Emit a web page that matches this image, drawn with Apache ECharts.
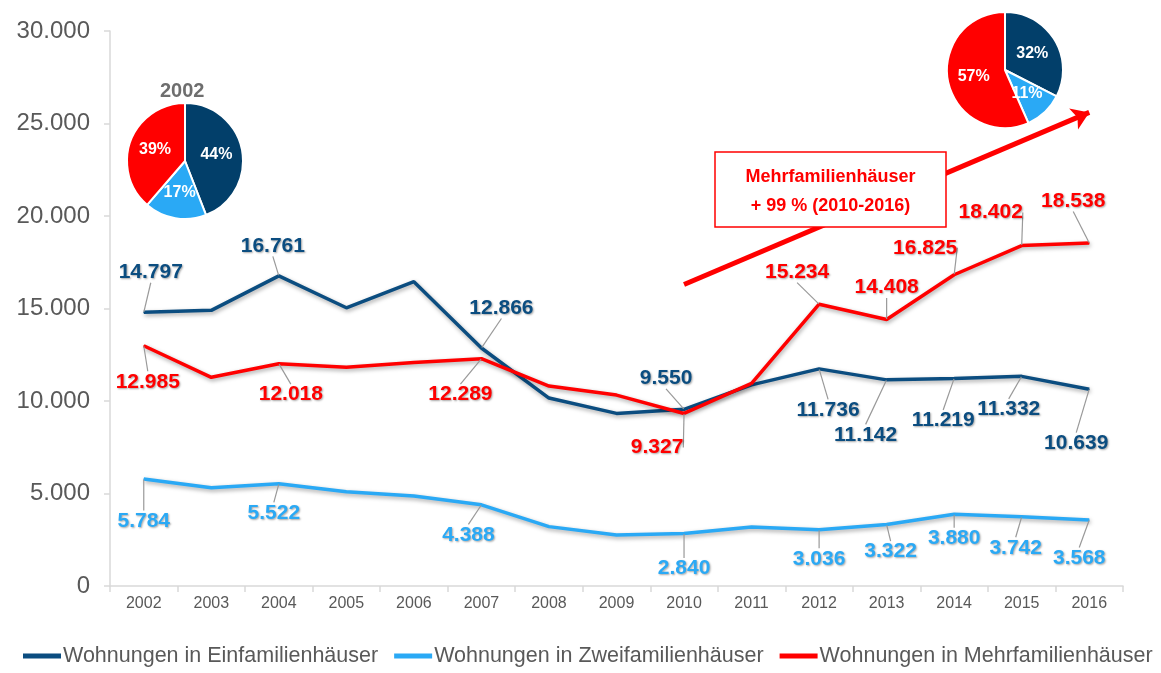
<!DOCTYPE html>
<html>
<head>
<meta charset="utf-8">
<script src="https://cdn.jsdelivr.net/npm/echarts@6/dist/echarts.min.js"></script>
<style>
  html, body { margin: 0; padding: 0; background: #fff; }
  #chart { width: 1161px; height: 673px; }
</style>
</head>
<body>
<div id="chart"></div>
<script>
const years = ['2002', '2003', '2004', '2005', '2006', '2007', '2008', '2009', '2010', '2011', '2012', '2013', '2014', '2015', '2016']
const einfamilien = [14797, 14900, 16761, 15040, 16450, 12866, 10160, 9330, 9550, 10870, 11736, 11142, 11219, 11332, 10639]
const zweifamilien = [5784, 5310, 5522, 5100, 4860, 4388, 3210, 2760, 2840, 3190, 3036, 3322, 3880, 3742, 3568]
const mehrfamilien = [12985, 11280, 12018, 11820, 12080, 12289, 10810, 10320, 9327, 10950, 15234, 14408, 16825, 18402, 18538]
const yTicks = [0, 5000, 10000, 15000, 20000, 25000, 30000]
const pieYears = ['2002', '2016']
const seriesNames = ['Wohnungen in Einfamilienhäuser', 'Wohnungen in Zweifamilienhäuser', 'Wohnungen in Mehrfamilienhäuser']
// annotation: growth arrow 2010 -> 2016
const arrowFrom = ['2010', 16300]
const arrowTo = ['2016', 25600]
const boxLines = ['Mehrfamilienhäuser', '+ 99 % (2010-2016)']

const DARK = '#0b4d80'
const LIGHT = '#2aa9f5'
const RED = '#ff0000'
const FONT = 'Liberation Sans, Arial, sans-serif'

// label offsets (px) from the data point, by year
const offsetsEin = {
  2002: [7, -40], 2004: [-6, -30], 2007: [20, -40], 2010: [-18, -31],
  2012: [9, 41], 2013: [-21, 55], 2014: [-11, 42], 2015: [-13, 33], 2016: [-13, 54],
}
const offsetsZwei = {
  2002: [0, 42], 2004: [-5, 29], 2007: [-13, 30], 2010: [0, 35],
  2012: [0, 29], 2013: [4, 27], 2014: [0, 24], 2015: [-6, 31], 2016: [-10, 38],
}
const offsetsMehr = {
  2002: [4, 36], 2004: [12, 31], 2007: [-21, 36], 2010: [-27, 34],
  2012: [-22, -32], 2013: [0, -32], 2014: [-29, -27], 2015: [-31, -33], 2016: [-16, -42],
}

const fmt = (v) => String(v).replace(/\B(?=(\d{3})+(?!\d))/g, '.')

const chart = echarts.init(document.getElementById('chart'))

function lineSeries(name, values, color, offsets) {
  return {
    name,
    type: 'line',
    data: values.map((v, i) => ({
      value: v,
      label: { show: !!offsets[years[i]] },
    })),
    symbol: 'circle',
    symbolSize: 1,
    showSymbol: true,
    itemStyle: { color },
    lineStyle: {
      color,
      width: 3.5,
      shadowColor: 'rgba(0,0,0,0.35)',
      shadowBlur: 4,
      shadowOffsetX: 1,
      shadowOffsetY: 2,
    },
    label: {
      position: 'inside',
      formatter: (p) => fmt(p.value),
      color,
      fontFamily: FONT,
      fontWeight: 'bold',
      fontSize: 21,
      textShadowColor: 'rgba(0,0,0,0.35)',
      textShadowBlur: 2,
      textShadowOffsetX: 1,
      textShadowOffsetY: 1,
    },
    labelLine: {
      show: true,
      lineStyle: { color: '#999', width: 1.2 },
    },
    labelLayout: (params) => {
      const o = offsets[years[params.dataIndex]]
      return o ? { dx: o[0], dy: o[1] } : {}
    },
    z: 3,
  }
}

function pieSeries(year, center) {
  const i = years.indexOf(year)
  return {
    type: 'pie',
    center,
    radius: 58,
    startAngle: 90,
    clockwise: true,
    percentPrecision: 0,
    silent: true,
    z: 5,
    itemStyle: { borderColor: '#fff', borderWidth: 2 },
    label: {
      position: 'inside',
      formatter: '{d}%',
      color: '#fff',
      fontFamily: FONT,
      fontWeight: 'bold',
      fontSize: 16,
    },
    data: [
      { name: seriesNames[0], value: einfamilien[i], itemStyle: { color: '#023f6a' } },
      { name: seriesNames[1], value: zweifamilien[i], itemStyle: { color: LIGHT } },
      { name: seriesNames[2], value: mehrfamilien[i], itemStyle: { color: RED } },
    ],
  }
}

const red = lineSeries(seriesNames[2], mehrfamilien, RED, offsetsMehr)
red.markLine = {
  silent: true,
  symbol: ['none', 'arrow'],
  symbolSize: 17,
  label: { show: false },
  lineStyle: { color: RED, width: 5, type: 'solid' },
  data: [[{ coord: arrowFrom }, { coord: arrowTo }]],
  z: 2,
}

const option = {
  animation: false,
  textStyle: { fontFamily: FONT },
  grid: { left: 110, right: 38, top: 31, bottom: 87 },
  xAxis: {
    type: 'category',
    data: years,
    boundaryGap: true,
    axisLine: { lineStyle: { color: '#d9d9d9', width: 1.5 } },
    axisTick: { show: true, length: 6, lineStyle: { color: '#d9d9d9', width: 1.5 } },
    axisLabel: { color: '#595959', fontSize: 16, margin: 10 },
    splitLine: { show: false },
  },
  yAxis: {
    type: 'value',
    min: yTicks[0],
    max: yTicks[yTicks.length - 1],
    interval: yTicks[1] - yTicks[0],
    axisLine: { show: true, lineStyle: { color: '#d9d9d9', width: 1.5 } },
    axisTick: { show: true, length: 6, lineStyle: { color: '#d9d9d9', width: 1.5 } },
    axisLabel: { color: '#595959', fontSize: 24, margin: 20, formatter: (v) => fmt(v) },
    splitLine: { show: false },
  },
  legend: {
    bottom: 6,
    left: 23,
    width: 1138,
    padding: 0,
    icon: 'rect',
    itemWidth: 38,
    itemHeight: 5,
    itemGap: 16,
    textStyle: { color: '#595959', fontSize: 21.5, padding: [0, 0, 0, -3] },
    data: seriesNames,
  },
  graphic: [
    {
      type: 'text',
      left: 185 - 25,
      top: 81,
      z: 100,
      style: { text: pieYears[0], fill: '#6e6e6e', font: 'bold 20px ' + FONT },
    },
    {
      type: 'group',
      x: 715,
      y: 152,
      children: [
        {
          type: 'rect',
          z: 100,
          shape: { x: 0, y: 0, width: 231, height: 75 },
          style: { fill: '#fff', stroke: RED, lineWidth: 1.5 },
        },
        {
          type: 'text',
          z: 101,
          x: 115.5,
          y: 25,
          style: { text: boxLines[0], fill: RED, font: 'bold 18px ' + FONT, align: 'center', verticalAlign: 'middle' },
        },
        {
          type: 'text',
          z: 101,
          x: 115.5,
          y: 54,
          style: { text: boxLines[1], fill: RED, font: 'bold 18px ' + FONT, align: 'center', verticalAlign: 'middle' },
        },
      ],
    },
  ],
  series: [
    lineSeries(seriesNames[0], einfamilien, DARK, offsetsEin),
    lineSeries(seriesNames[1], zweifamilien, LIGHT, offsetsZwei),
    red,
    pieSeries(pieYears[0], [185, 161]),
    pieSeries(pieYears[1], [1005, 70]),
  ],
}

chart.setOption(option)
window.addEventListener('resize', () => chart.resize())
</script>
</body>
</html>
